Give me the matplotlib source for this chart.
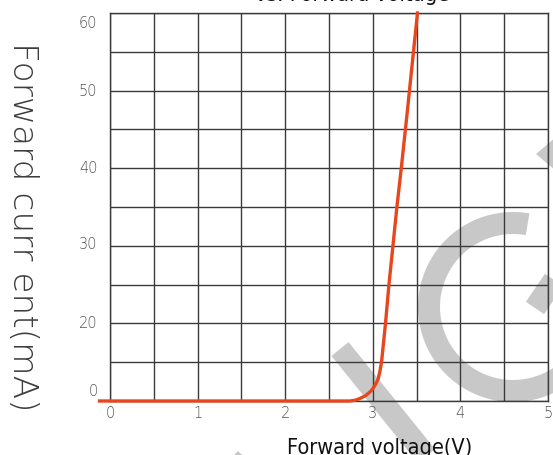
import matplotlib
matplotlib.use("Agg")
import matplotlib.pyplot as plt
from matplotlib.patches import Arc, Polygon

# === Data ===
voltage = [-0.12, 2.74, 2.80, 2.85, 2.92, 2.98, 3.02, 3.06, 3.08, 3.10,
           3.145, 3.185, 3.23, 3.275, 3.325, 3.385, 3.51]
current = [0.0, 0.0, 0.12, 0.37, 0.85, 1.55, 2.3, 3.36, 4.5, 6.04,
           12.0, 18.1, 24.0, 30.0, 36.0, 43.6, 60.0]

xtick_vals = [0, 1, 2, 3, 4, 5]
ytick_labels = ["0", "20", "30", "40", "50", "60"]
ytick_pos = [1.9, 12.4, 24.6, 36.3, 48.2, 58.8]

W, H = 553, 456
GRID = "#3a3a3a"
WM = "#c8c8c8"
CURVE = "#e8461c"
NARROW = ["Liberation Sans Narrow", "DejaVu Sans"]

fig = plt.figure(figsize=(W / 100, H / 100), dpi=100)

# --- watermark layer (pixel coordinates, y up) ---
bg = fig.add_axes([0, 0, 1, 1], zorder=0)
bg.set_xlim(0, W)
bg.set_ylim(0, H)
bg.axis("off")
wm_lw = 22 * 72 / 100
bg.plot([340, 445], [H - 350, H - 480], color=WM, lw=wm_lw, solid_capstyle="butt")
bg.plot([535, 575], [H - 309, H - 250], color=WM, lw=wm_lw, solid_capstyle="butt")
bg.add_patch(Arc((513, H - 308), 168, 168, theta1=80, theta2=330,
                 color=WM, lw=wm_lw))
bg.add_patch(Polygon([[536, H - 155], [556, H - 138], [556, H - 172]],
                     closed=True, color=WM, lw=0))
bg.add_patch(Polygon([[230, H - 460], [238, H - 452], [246, H - 460]],
                     closed=True, color=WM, lw=0))

# --- main chart ---
ax = fig.add_axes([110 / W, (H - 402) / H, 438 / W, 388 / H], zorder=1)
ax.set_facecolor("none")
ax.set_xlim(0, 5)
ax.set_ylim(0, 60)

ax.set_xticks([i * 0.5 for i in range(11)], minor=True)
ax.set_yticks([i * 6 for i in range(11)], minor=True)
ax.set_xticks(xtick_vals)
ax.set_xticklabels([str(v) for v in xtick_vals])
ax.set_yticks(ytick_pos)
ax.set_yticklabels(ytick_labels)
ax.grid(which="minor", color=GRID, lw=1.0)
ax.grid(which="major", axis="x", color=GRID, lw=1.0)
ax.tick_params(which="both", length=0)
ax.tick_params(which="major", labelcolor="#555555", labelsize=10.5)
ax.tick_params(axis="x", pad=3)
ax.tick_params(axis="y", pad=9)
for lab in ax.get_xticklabels() + ax.get_yticklabels():
    lab.set_fontweight("light")

for side in ["left", "right", "top", "bottom"]:
    ax.spines[side].set_color(GRID)
    ax.spines[side].set_linewidth(1.0)

ax.plot(voltage, current, color=CURVE, lw=2.4, clip_on=False,
        solid_joinstyle="round", zorder=5)

# --- labels ---
ylab = fig.text(22 / W, 1 - 227 / H, "Forward curr ent(mA)", rotation=270,
                ha="center", va="center", fontsize=22, color="#3c3c3c",
                fontweight="light", family=["DejaVu Sans"])
xlab = fig.text(380 / W, 1 - 454 / H, "Forward voltage(V)", ha="center",
                va="baseline", fontsize=16, color="#111111",
                fontstretch="condensed", family=NARROW)
title = fig.text(352 / W, 1 - 1.2 / H, "vs. Forward voltage", ha="center",
                 va="baseline", fontsize=16, color="#111111",
                 fontstretch="condensed", family=NARROW)

# fit the text sizes to the lengths measured on the reference
renderer = fig.canvas.get_renderer()
for txt, target, use_h in [(ylab, 370, True), (xlab, 187, False), (title, 195, False)]:
    bb = txt.get_window_extent(renderer)
    cur = bb.height if use_h else bb.width
    txt.set_fontsize(txt.get_fontsize() * target / cur)

fig.savefig("out.png", dpi=100)
